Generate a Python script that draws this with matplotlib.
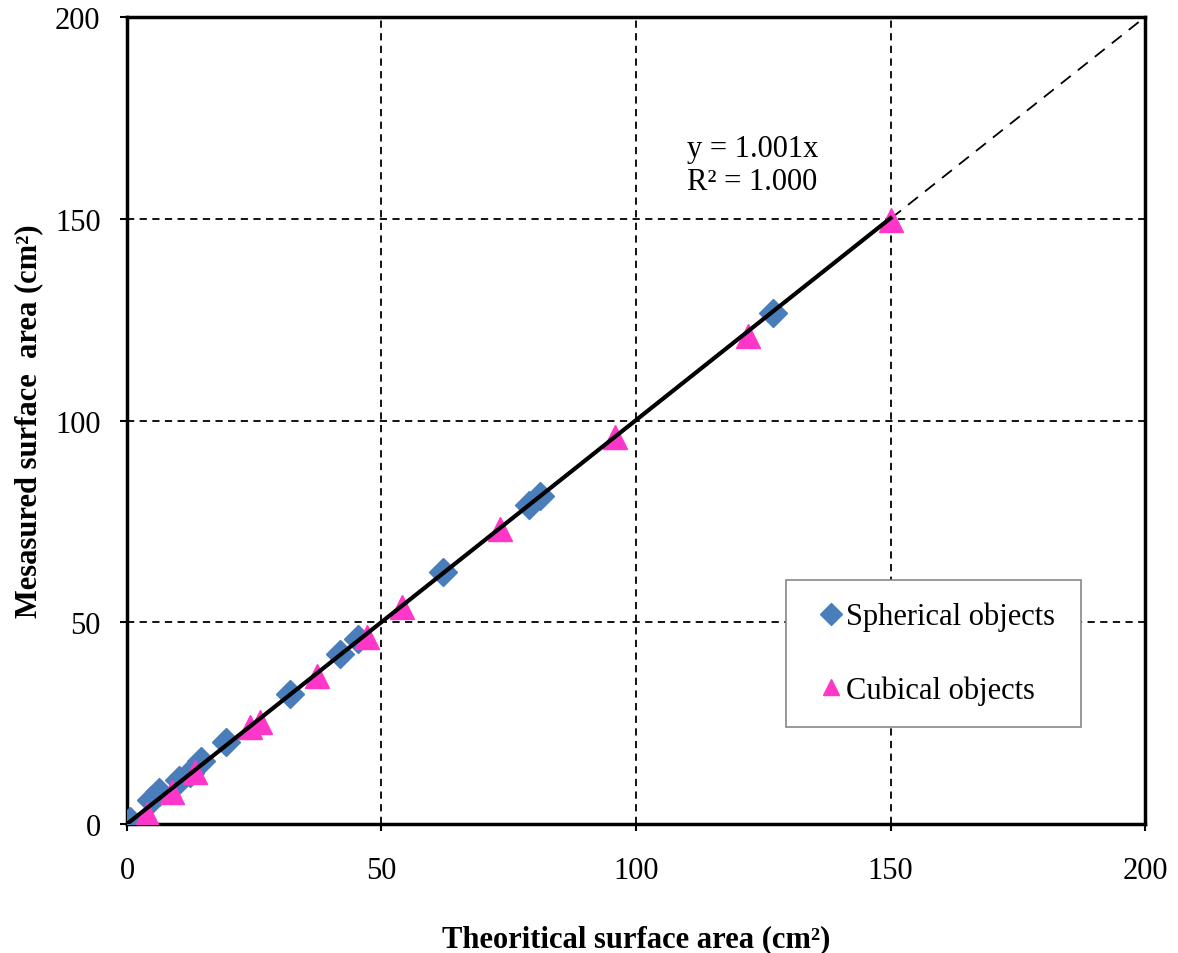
import matplotlib
matplotlib.use("Agg")
import matplotlib.pyplot as plt
import numpy as np

plt.rcParams['font.family'] = ['Liberation Serif', 'DejaVu Serif']

# spherical objects (theoretical, measured)
sph_x = [0.5, 4.8, 6.3, 10.2, 12.3, 14.5, 19.5, 32.0, 41.8, 45.4, 62.1, 78.9, 81.1, 127.0]
sph_y = [0.8, 6.0, 7.9, 11.0, 12.6, 15.5, 20.3, 32.2, 42.1, 45.8, 62.4, 79.0, 81.4, 126.6]

# cubical objects
cub_x = [3.9, 8.8, 13.4, 24.2, 26.1, 37.3, 47.1, 54.0, 73.3, 95.9, 122.0, 150.0]
cub_y = [2.5, 7.9, 12.9, 24.0, 25.3, 36.8, 46.3, 53.8, 73.1, 95.8, 121.0, 149.7]

slope = 1.001
ticks = [0, 50, 100, 150, 200]
fs = 22

fig = plt.figure(figsize=(11.78, 9.54), dpi=100)
ax = fig.add_axes([0.1078, 0.1352, 0.8642, 0.8459])

# grid
for t in ticks[1:-1]:
    ax.axvline(t, color='black', lw=1.3, ls=(0, (4, 3)), zorder=1)
    ax.axhline(t, color='black', lw=1.3, ls=(0, (4, 3)), zorder=1)

# 1:1 line
ax.plot([0, 200], [0, 200], color='black', lw=1.3, ls=(0, (7, 5)), zorder=2)

ax.plot(sph_x, sph_y, ls='none', marker='D', ms=14, color='#4A7EBB',
        label='Spherical objects', zorder=3)
ax.plot(cub_x, cub_y, ls='none', marker='^', ms=17, color='#FF37C9',
        label='Cubical objects', zorder=3)

# trend line
xmax = max(max(sph_x), max(cub_x))
xt = np.array([0, xmax])
ax.plot(xt, slope * xt, color='black', lw=3, zorder=4)

ax.text(110, 171, 'y = 1.001x\nR² = 1.000', fontsize=fs, va='top', ha='left',
        linespacing=1.2)

ax.set_xlim(0, 200)
ax.set_ylim(0, 200)
ax.set_xticks(ticks)
ax.set_yticks(ticks)
ax.tick_params(direction='out', length=5, width=1.5, labelsize=fs, pad=14)
ax.tick_params(axis='x', pad=18)
for s in ax.spines.values():
    s.set_linewidth(2.5)

ax.set_xlabel('Theoritical surface area (cm²)', fontsize=fs, fontweight='bold')
ax.set_ylabel('Mesasured surface  area (cm²)', fontsize=fs, fontweight='bold')
ax.xaxis.set_label_coords(0.5, -0.124)
ax.yaxis.set_label_coords(-0.082, 0.5)

leg = ax.legend(loc='lower left', bbox_to_anchor=(0.647, 0.12, 0.29, 0.19),
                mode='expand', fontsize=fs, fancybox=False, framealpha=1,
                edgecolor='#888888', labelspacing=1.44, handlelength=1.54,
                handletextpad=-0.28, borderpad=0.73, borderaxespad=0)
leg.get_frame().set_linewidth(1.2)
for h in leg.legend_handles:
    h.set_markersize(11)

fig.savefig('out.png', dpi=100)
